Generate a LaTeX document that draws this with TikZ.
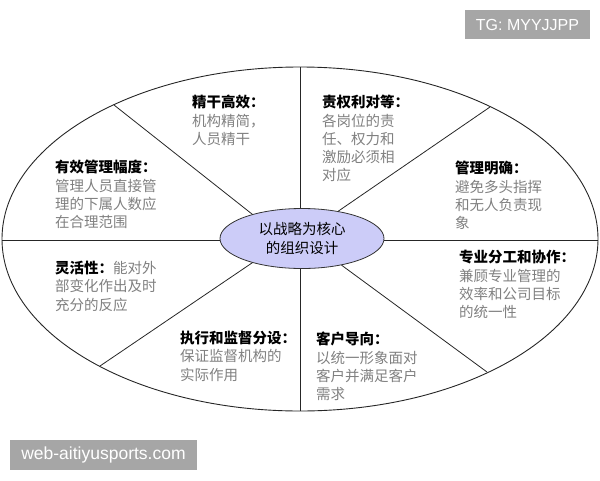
\documentclass[tikz,border=0pt]{standalone}
\usepackage{fontspec}
\setmainfont{Noto Sans CJK SC}
\newfontfamily\markfont{Liberation Sans}
\usetikzlibrary{shapes.geometric}
\definecolor{hubblue}{RGB}{204,204,248}
\definecolor{bodygray}{RGB}{128,128,128}
\definecolor{markgray}{RGB}{166,166,166}
\newcommand\sechead[1]{{\color{black}\bfseries #1}}

\begin{document}
\begin{tikzpicture}[x=1pt,y=-1pt,
  rim/.style={draw=black!85, line width=0.9pt},
  spoke/.style={draw=black!85, line width=0.8pt},
  hubnode/.style={ellipse, draw=black!80, line width=0.8pt, fill=hubblue, minimum width=164pt, minimum height=60pt, inner sep=0pt, align=center, font=\fontsize{14.5}{19}\selectfont},
  sector/.style={anchor=north west, inner sep=0pt, align=left, text=bodygray, font=\fontsize{14.5}{18.3}\selectfont},
  markbox/.style={fill=markgray, text=white, inner sep=0pt}]
\useasboundingbox (0,0) rectangle (600,480);
\draw[rim] (300,239) ellipse [x radius=298, y radius=172];
\node[hubnode] (hub) at (302,238.5) {以战略为核心\\的组织设计};
\coordinate (top) at (300,67);
\coordinate (bot) at (300,411);
\coordinate (lft) at (2,240);
\coordinate (rgt) at (598,240);
\coordinate (ul) at (114,105);
\coordinate (ur) at (490,107);
\coordinate (ll) at (100,366);
\coordinate (lr) at (487,372);
\draw[spoke] (top) -- (top |- hub.north);
\draw[spoke] (bot) -- (bot |- hub.south);
\draw[spoke] (lft) -- (lft -| hub.west);
\draw[spoke] (rgt) -- (rgt -| hub.east);
\draw[spoke] (hub.154) -- (ul);
\draw[spoke] (hub.37) -- (ur);
\draw[spoke] (hub.206) -- (ll);
\draw[spoke] (hub.326) -- (lr);
\node[sector] (lean) at (192,95) {\sechead{精干高效：}\\机构精简，\\人员精干};
\node[sector] (span) at (55,160) {\sechead{有效管理幅度：}\\管理人员直接管\\理的下属人数应\\在合理范围};
\node[sector] (duty) at (322,95) {\sechead{责权利对等：}\\各岗位的责\\任、权力和\\激励必须相\\对应};
\node[sector] (clear) at (455,161) {\sechead{管理明确：}\\避免多头指挥\\和无人负责现\\象};
\node[sector] (labor) at (459,250) {\sechead{专业分工和协作：}\\兼顾专业管理的\\效率和公司目标\\的统一性};
\node[sector] (client) at (316,332) {\sechead{客户导向：}\\以统一形象面对\\客户并满足客户\\需求};
\node[sector] (flex) at (55,261) {\sechead{灵活性：}能对外\\部变化作出及时\\充分的反应};
\node[sector] (audit) at (180,331) {\sechead{执行和监督分设：}\\保证监督机构的\\实际作用};
\node[markbox, minimum width=125pt, minimum height=29pt, font=\markfont\fontsize{16}{16}\selectfont] (tg) at (527.5,24.5) {TG: MYYJJPP};
\node[markbox, minimum width=187pt, minimum height=30pt, font=\markfont\fontsize{17.5}{17.5}\selectfont] (site) at (103.5,455) {web-aitiyusports.com};
\end{tikzpicture}
\end{document}
